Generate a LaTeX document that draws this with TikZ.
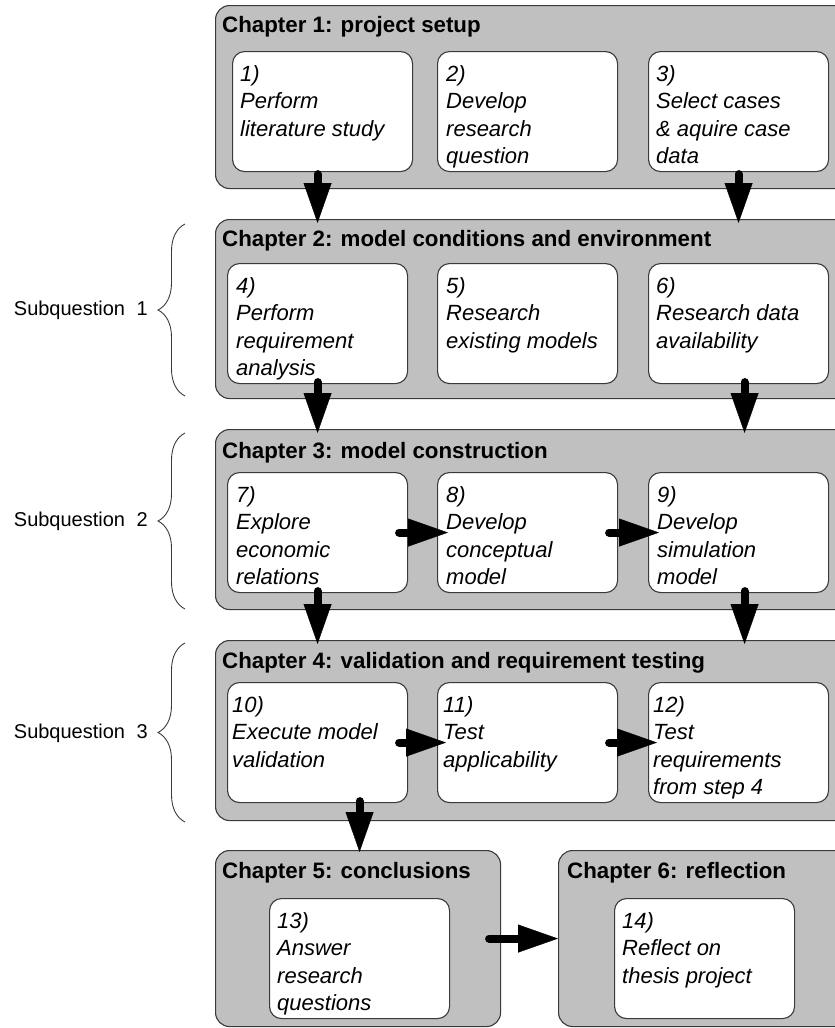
\documentclass[tikz,border=0pt]{standalone}
\usepackage{fontspec}
\setmainfont{Liberation Sans}
\usetikzlibrary{arrows.meta,decorations.pathreplacing}
\definecolor{chgray}{HTML}{C0C0C0}
\definecolor{edgec}{HTML}{3A3A3A}
\tikzset{
 chap/.style={draw=edgec, line width=1.1pt, fill=chgray, rounded corners=14pt, inner sep=0pt, anchor=north west},
 stepbox/.style={draw=edgec, line width=1.1pt, fill=white, rounded corners=12pt, inner sep=0pt, anchor=north west, minimum width=180pt, minimum height=120pt},
 ctitle/.style={anchor=base west, inner sep=0pt, font=\fontsize{22.3}{26}\selectfont\bfseries},
 stext/.style={anchor=north west, inner sep=0pt, align=left, font=\fontsize{22}{27.5}\selectfont\itshape},
 bigarrow/.style={line width=8pt, line cap=round, -{Triangle[length=40pt,width=28pt,line width=0.4pt]}},
 sq/.style={anchor=east, inner sep=0pt, font=\fontsize{20}{23}\selectfont},
 brc/.style={decorate, decoration={brace, amplitude=27pt, aspect=0.5}, line width=0.9pt, draw=edgec}
}
\begin{document}
\begin{tikzpicture}[x=1pt,y=-1pt]
\useasboundingbox (0,0) rectangle (835,1028);
\clip (0,0) rectangle (835,1028);

% chapter boxes
\node[chap, minimum width=640pt, minimum height=183pt] (ch1) at (215,5) {};
\node[chap, minimum width=640pt, minimum height=179pt] (ch2) at (215,219) {};
\node[chap, minimum width=640pt, minimum height=180pt] (ch3) at (215,429) {};
\node[chap, minimum width=640pt, minimum height=180pt] (ch4) at (215,640) {};
\node[chap, minimum width=285pt, minimum height=176pt] (ch5) at (215,850) {};
\node[chap, minimum width=300pt, minimum height=176pt] (ch6) at (558,850) {};

% titles
\node[ctitle] (t1) at (222,32) {Chapter 1: project setup};
\node[ctitle] (t2) at (222,246) {Chapter 2: model conditions and environment};
\node[ctitle] (t3) at (222,458) {Chapter 3: model construction};
\node[ctitle] (t4) at (222,668) {Chapter 4: validation and requirement testing};
\node[ctitle] (t5) at (222,878) {Chapter 5: conclusions};
\node[ctitle] (t6) at (567,878) {Chapter 6: reflection};

% step boxes
\node[stepbox] (b1) at (232,51) {};
\node[stepbox] (b2) at (437,51) {};
\node[stepbox] (b3) at (648,51) {};
\node[stepbox] (b4) at (227,263) {};
\node[stepbox] (b5) at (437,263) {};
\node[stepbox] (b6) at (648,263) {};
\node[stepbox] (b7) at (227,472) {};
\node[stepbox] (b8) at (437,472) {};
\node[stepbox] (b9) at (648,472) {};
\node[stepbox] (b10) at (227,682) {};
\node[stepbox] (b11) at (437,682) {};
\node[stepbox] (b12) at (648,682) {};
\node[stepbox] (b13) at (269,898) {};
\node[stepbox] (b14) at (614,898) {};

% step texts
\node[stext] (s1) at ([xshift=8pt,yshift=-10.75pt]b1.north west) {\strut 1)\\Perform\\literature study};
\node[stext] (s2) at ([xshift=9pt,yshift=-10.75pt]b2.north west) {\strut 2)\\Develop\\research\\question};
\node[stext] (s3) at ([xshift=8pt,yshift=-10.75pt]b3.north west) {\strut 3)\\Select cases\\\& aquire case\\data};
\node[stext] (s4) at ([xshift=9pt,yshift=-10.75pt]b4.north west) {\strut 4)\\Perform\\requirement\\analysis};
\node[stext] (s5) at ([xshift=9pt,yshift=-10.75pt]b5.north west) {\strut 5)\\Research\\existing models};
\node[stext] (s6) at ([xshift=8pt,yshift=-10.75pt]b6.north west) {\strut 6)\\Research data\\availability};
\node[stext] (s7) at ([xshift=9pt,yshift=-10.75pt]b7.north west) {\strut 7)\\Explore\\economic\\relations};
\node[stext] (s8) at ([xshift=9pt,yshift=-10.75pt]b8.north west) {\strut 8)\\Develop\\conceptual\\model};
\node[stext] (s9) at ([xshift=9pt,yshift=-10.75pt]b9.north west) {\strut 9)\\Develop\\simulation\\model};
\node[stext] (s10) at ([xshift=5pt,yshift=-10.75pt]b10.north west) {\strut 10)\\Execute model\\validation};
\node[stext] (s11) at ([xshift=6pt,yshift=-10.75pt]b11.north west) {\strut 11)\\Test\\applicability};
\node[stext] (s12) at ([xshift=5pt,yshift=-10.75pt]b12.north west) {\strut 12)\\Test\\requirements\\from step 4};
\node[stext] (s13) at ([xshift=8pt,yshift=-10.75pt]b13.north west) {\strut 13)\\Answer\\research\\questions};
\node[stext] (s14) at ([xshift=8pt,yshift=-10.75pt]b14.north west) {\strut 14)\\Reflect on\\thesis project};

% vertical arrows
\draw[bigarrow] ([xshift=-5pt,yshift=-2pt]b1.south) -- ([xshift=-5pt,yshift=-4pt]b1.south |- ch2.north);
\draw[bigarrow] ([yshift=-2pt]b3.south) -- ([yshift=-4pt]b3.south |- ch2.north);
\draw[bigarrow] ([yshift=2pt]b4.south) -- ([yshift=-4pt]b4.south |- ch3.north);
\draw[bigarrow] ([xshift=6pt,yshift=2pt]b6.south) -- ([xshift=6pt,yshift=-4pt]b6.south |- ch3.north);
\draw[bigarrow] ([yshift=2pt]b7.south) -- ([yshift=-4pt]b7.south |- ch4.north);
\draw[bigarrow] ([xshift=6pt,yshift=2pt]b9.south) -- ([xshift=6pt,yshift=-4pt]b9.south |- ch4.north);
\draw[bigarrow] ([xshift=42pt,yshift=2pt]b10.south) -- ([xshift=42pt,yshift=-2pt]b10.south |- ch5.north);

% horizontal arrows
\draw[bigarrow] ([xshift=-9pt]b7.east) -- ([xshift=11pt]b8.west);
\draw[bigarrow] ([xshift=-9pt]b8.east) -- ([xshift=11pt]b9.west);
\draw[bigarrow] ([xshift=-9pt]b10.east) -- ([xshift=9pt]b11.west);
\draw[bigarrow] ([xshift=-9pt]b11.east) -- ([xshift=9pt]b12.west);
\draw[bigarrow] ([xshift=-12pt]ch5.east) -- (ch6.west);

% braces and labels
\draw[brc] (185,396) -- (185,224);
\draw[brc] (185,609) -- (185,433);
\draw[brc] (185,822) -- (185,643);
\node[sq] (q1) at (148,310) {Subquestion\hspace{0.3em} 1};
\node[sq] (q2) at (148,521) {Subquestion\hspace{0.3em} 2};
\node[sq] (q3) at (148,733) {Subquestion\hspace{0.3em} 3};
\end{tikzpicture}
\end{document}
